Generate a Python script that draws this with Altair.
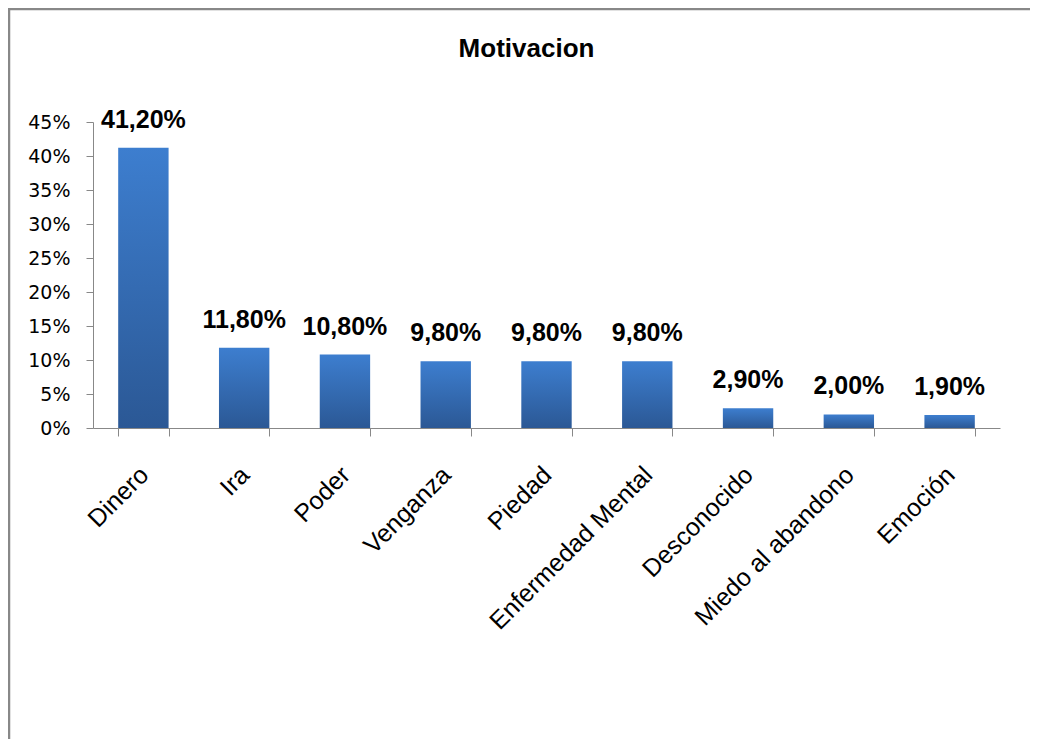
import altair as alt
import pandas as pd

categories = ["Dinero", "Ira", "Poder", "Venganza", "Piedad", "Enfermedad Mental",
              "Desconocido", "Miedo al abandono", "Emoción"]
values = [41.2, 11.8, 10.8, 9.8, 9.8, 9.8, 2.9, 2.0, 1.9]
labels = ["41,20%", "11,80%", "10,80%", "9,80%", "9,80%", "9,80%", "2,90%", "2,00%", "1,90%"]
y_ticks = [0, 5, 10, 15, 20, 25, 30, 35, 40, 45]

df = pd.DataFrame({"cat": categories, "val": values, "lab": labels})

W, H = 907, 306
PL, PT, PR, PB = 85, 114, 30, 311

bold_font = "Liberation Sans Narrow, Arial Narrow, Liberation Sans, Arial"
regular = "Liberation Sans, Arial, sans-serif"
ylab_font = "DejaVu Sans, Verdana, sans-serif"

grad = alt.Gradient(
    gradient="linear",
    stops=[alt.GradientStop(offset=0, color="#3D7ECF"),
           alt.GradientStop(offset=1, color="#2B5895")],
    x1=0, x2=0, y1=0, y2=1,
)

x_enc = alt.X("cat:N", sort=categories, title=None,
              scale=alt.Scale(paddingInner=0.5, paddingOuter=0.25),
              axis=alt.Axis(labelAngle=-45, labelAlign="right", labelBaseline="top",
                            labelFont=regular, labelFontSize=25, labelColor="#000000",
                            labelPadding=26, labelOffset=-8, tickBand="extent",
                            tickSize=8, tickColor="#888888", domainColor="#888888",
                            labelOverlap=False, labelLimit=400))
y_enc = alt.Y("val:Q", title=None,
              scale=alt.Scale(domain=[0, 45], nice=False),
              axis=alt.Axis(values=y_ticks, labelExpr="datum.value + '%'",
                            labelFont=ylab_font, labelFontSize=19, labelColor="#000000",
                            labelPadding=16, tickSize=7, tickColor="#888888",
                            labelOverlap=False, labelFlush=False,
                            domainColor="#888888", grid=False))

base = alt.Chart(df)
bars = base.mark_bar(color=grad).encode(x=x_enc, y=y_enc)
text = base.mark_text(font=bold_font, fontSize=25, fontWeight="bold", color="#000000",
                      baseline="alphabetic", dy=-20).encode(
    x=x_enc, y=y_enc, text="lab:N")

border_df = pd.DataFrame({"k": [0]})
left_border = alt.Chart(border_df).mark_rule(color="#888888", strokeWidth=2.5).encode(
    x=alt.value(-PL + 1), y=alt.value(-PT), y2=alt.value(H + PB))
top_border = alt.Chart(border_df).mark_rule(color="#888888", strokeWidth=2.5).encode(
    y=alt.value(-PT + 1), x=alt.value(-PL), x2=alt.value(W + PR))

chart = alt.layer(bars, text, left_border, top_border).properties(
    width=W, height=H,
    title=alt.TitleParams("Motivacion", font=bold_font, fontSize=26, fontWeight="bold",
                          color="#000000", anchor="middle", dx=-20, offset=-76,
                          baseline="alphabetic"),
    autosize=alt.AutoSizeParams(type="none"),
    padding={"left": PL, "top": PT, "right": PR, "bottom": PB},
    background="white",
).configure_view(stroke=None)

chart.save("out.html", embed_options={"renderer": "svg", "actions": False})
